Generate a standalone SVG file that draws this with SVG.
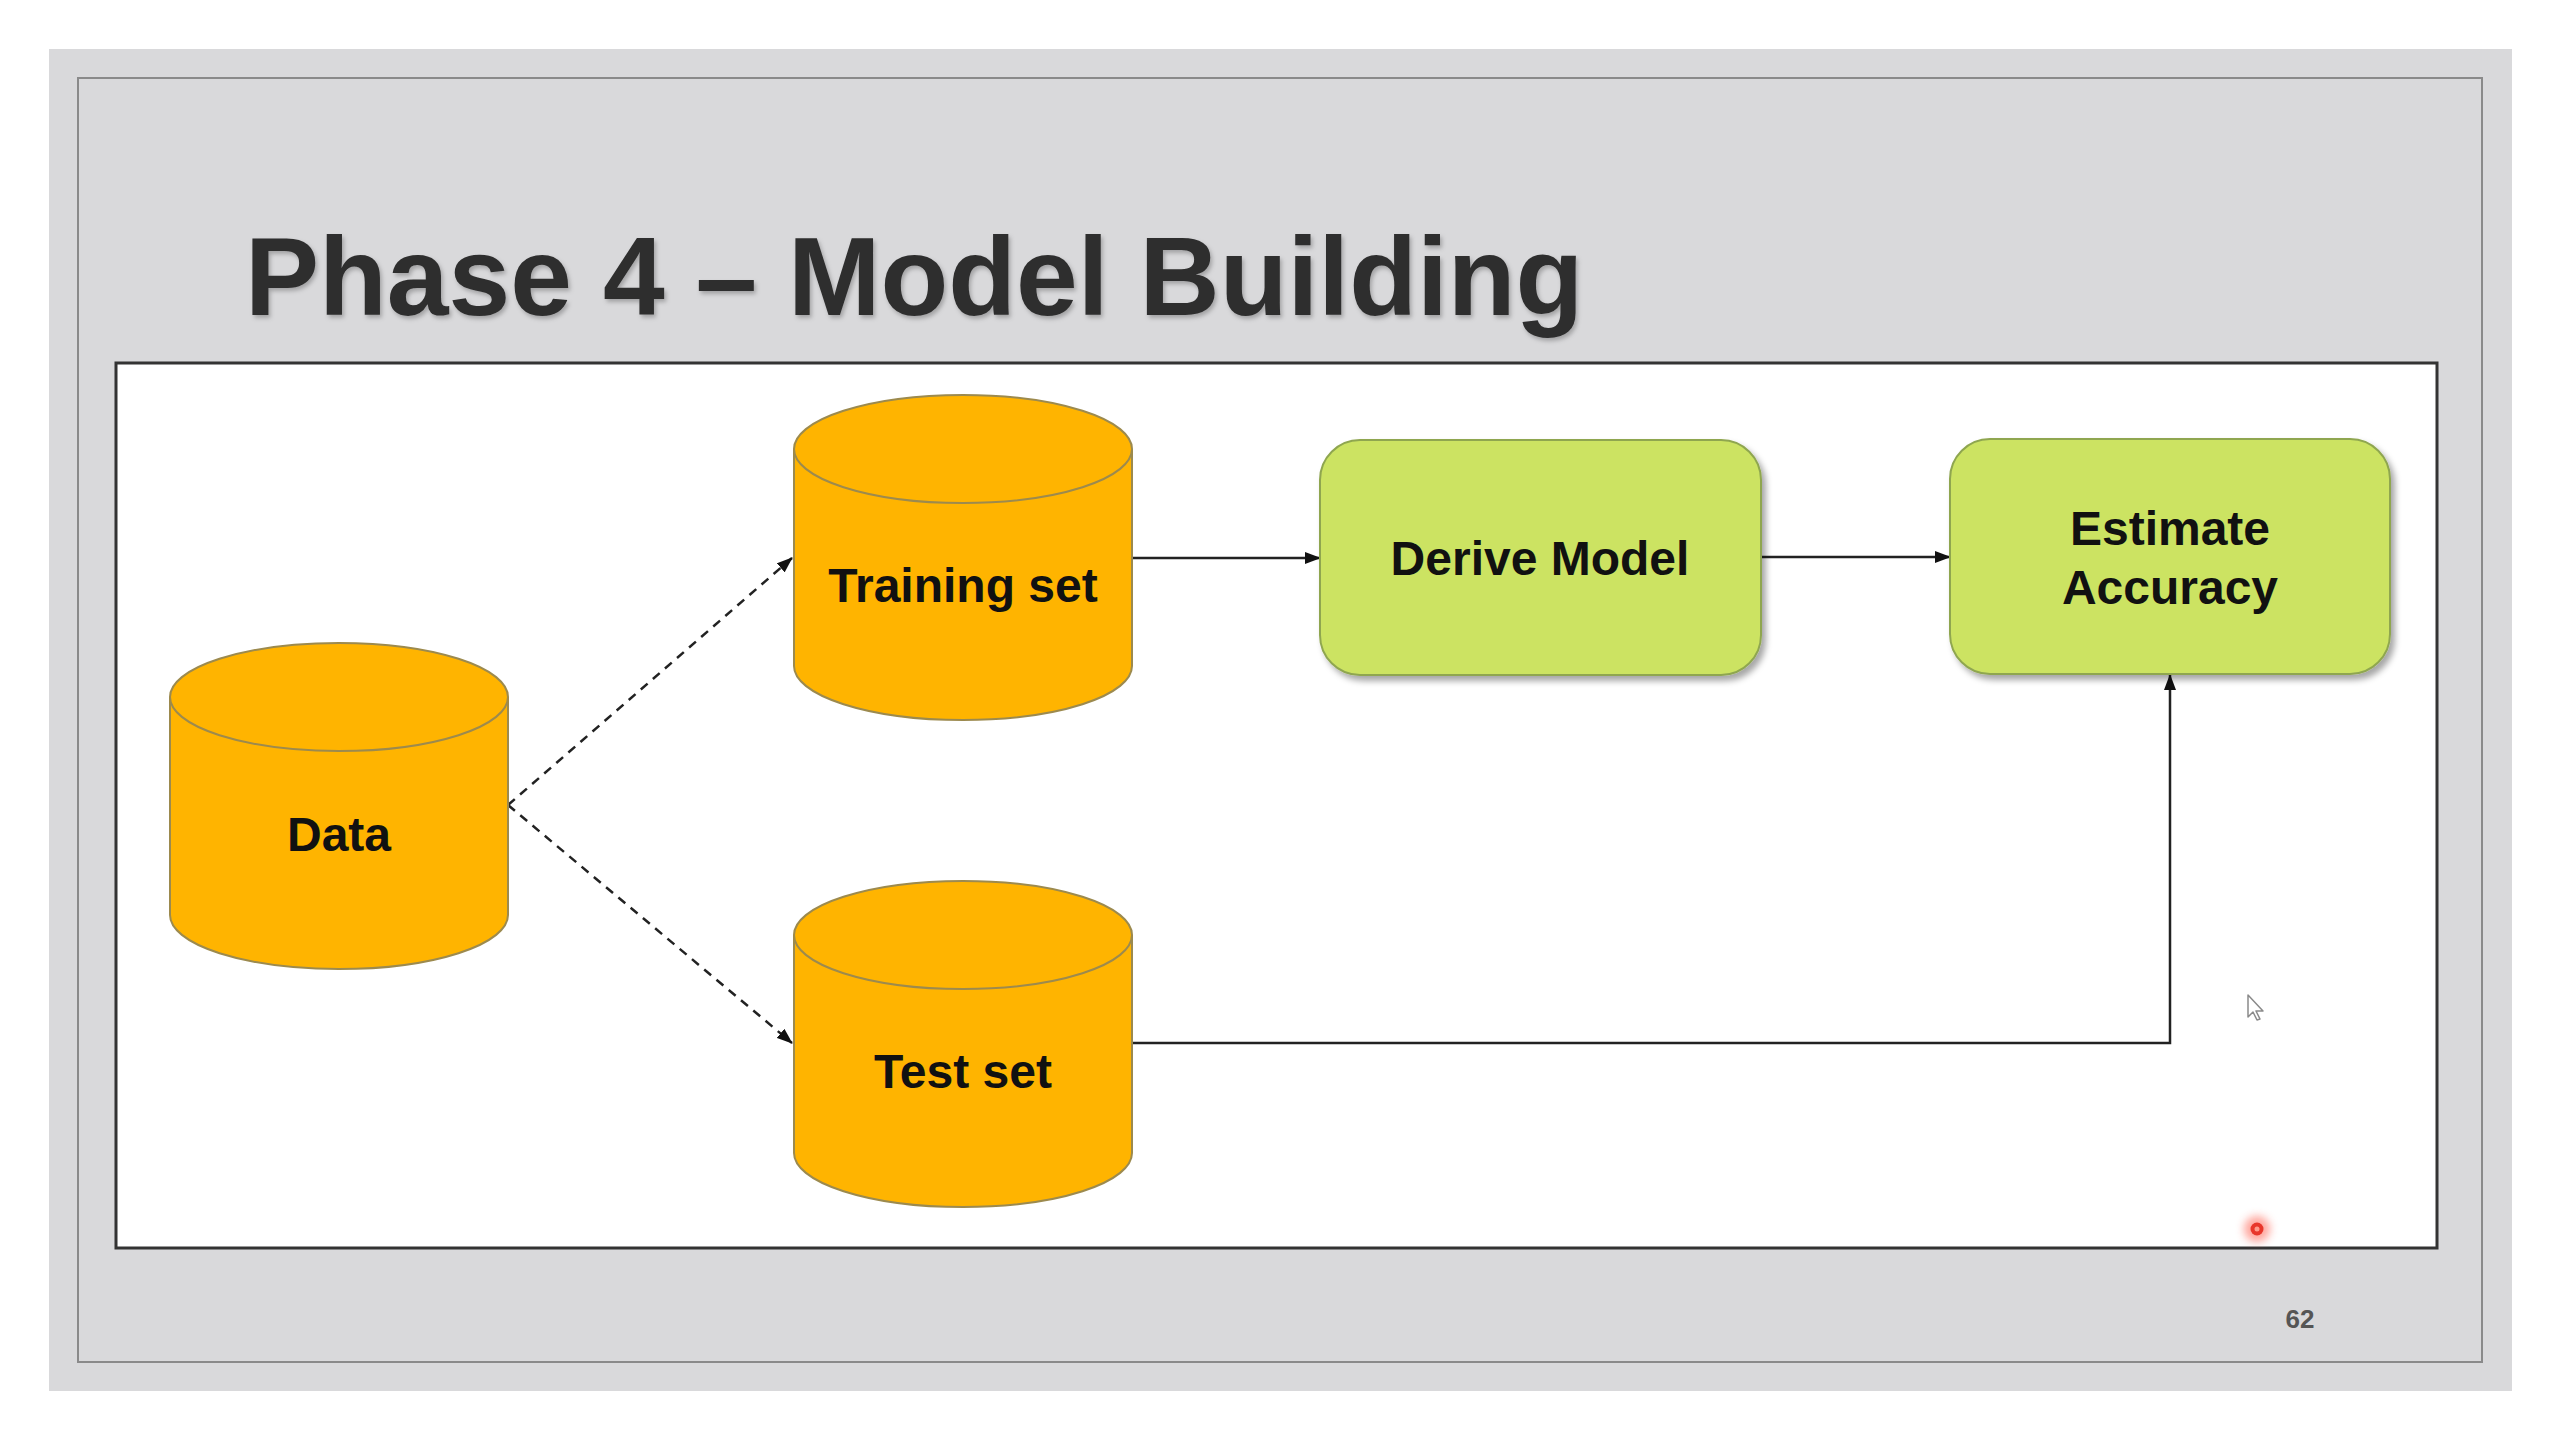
<svg xmlns="http://www.w3.org/2000/svg" width="2560" height="1440" viewBox="0 0 2560 1440">
<style>
.cyl{fill:#FFB400;stroke:#9C8A4E;stroke-width:2}
.cyl-rim{fill:none;stroke:#9C8A4E;stroke-width:2}
.proc{fill:#CCE362;stroke:#8FA650;stroke-width:2}
.lbl{font-family:"Liberation Sans",Arial,Helvetica,sans-serif;font-weight:bold;font-size:48px;fill:#111;text-anchor:middle}
.conn{fill:none;stroke:#222;stroke-width:2.5}
.dash{stroke-dasharray:9 7}
</style>
<defs>
<marker id="arrow" markerUnits="userSpaceOnUse" markerWidth="16" markerHeight="12" refX="15" refY="6" orient="auto">
<path d="M0,0 L16,6 L0,12 Z" fill="#111"/>
</marker>
<filter id="shadow" x="-10%" y="-10%" width="125%" height="130%">
<feDropShadow dx="4" dy="5" stdDeviation="3" flood-color="#000" flood-opacity="0.35"/>
</filter>
<filter id="tshadow" x="-5%" y="-20%" width="110%" height="140%">
<feDropShadow dx="2" dy="3" stdDeviation="2" flood-color="#000" flood-opacity="0.25"/>
</filter>
<filter id="glow" x="-100%" y="-100%" width="300%" height="300%">
<feGaussianBlur stdDeviation="4"/>
</filter>
</defs>

<rect x="0" y="0" width="2560" height="1440" fill="#ffffff"/>
<rect x="49" y="49" width="2463" height="1342" fill="#D9D9DB"/>
<rect x="78" y="78" width="2404" height="1284" fill="none" stroke="#8a8a8a" stroke-width="2"/>

<text id="title" x="245" y="315" font-family="'Liberation Sans',Arial,Helvetica,sans-serif" font-weight="bold" font-size="111" fill="#2e2e2e" filter="url(#tshadow)">Phase 4 – Model Building</text>

<rect id="canvas" x="116" y="363" width="2321" height="885" fill="#ffffff" stroke="#333333" stroke-width="3"/>

<g id="connectors">
<path class="conn" d="M1132,558 H1320" marker-end="url(#arrow)"/>
<path class="conn" d="M1761,557 H1950" marker-end="url(#arrow)"/>
<path class="conn" d="M1132,1043 H2170 V675" marker-end="url(#arrow)"/>
<path class="conn dash" d="M508,805 L792,558" marker-end="url(#arrow)"/>
<path class="conn dash" d="M508,805 L792,1043" marker-end="url(#arrow)"/>
</g>

<g id="node-data">
<path class="cyl" d="M170,697 A169,54 0 0 1 508,697 V915 A169,54 0 0 1 170,915 Z"/>
<path class="cyl-rim" d="M170,697 A169,54 0 0 0 508,697"/>
<text class="lbl" x="339" y="851">Data</text>
</g>

<g id="node-training">
<path class="cyl" d="M794,449 A169,54 0 0 1 1132,449 V666 A169,54 0 0 1 794,666 Z"/>
<path class="cyl-rim" d="M794,449 A169,54 0 0 0 1132,449"/>
<text class="lbl" x="963" y="602">Training set</text>
</g>

<g id="node-test">
<path class="cyl" d="M794,935 A169,54 0 0 1 1132,935 V1153 A169,54 0 0 1 794,1153 Z"/>
<path class="cyl-rim" d="M794,935 A169,54 0 0 0 1132,935"/>
<text class="lbl" x="963" y="1088">Test set</text>
</g>

<g id="node-derive">
<rect class="proc" x="1320" y="440" width="441" height="235" rx="40" ry="40" filter="url(#shadow)"/>
<text class="lbl" x="1540" y="575">Derive Model</text>
</g>

<g id="node-estimate">
<rect class="proc" x="1950" y="439" width="440" height="235" rx="40" ry="40" filter="url(#shadow)"/>
<text class="lbl" x="2170" y="545">Estimate</text>
<text class="lbl" x="2170" y="604">Accuracy</text>
</g>

<g id="pointer">
<path d="M2248,995 L2248,1017 L2253,1012 L2257,1020 L2260,1019 L2256,1011 L2263,1011 Z" fill="#ffffff" stroke="#8a8a8a" stroke-width="1.5" stroke-linejoin="round"/>
<circle cx="2257" cy="1229" r="13" fill="#ff6b5b" opacity="0.6" filter="url(#glow)"/>
<circle cx="2257" cy="1229" r="6.5" fill="#e8362a"/>
<circle cx="2257" cy="1229" r="2.5" fill="#ff9a8a"/>
</g>

<text id="page-number" x="2300" y="1328" font-family="'Liberation Sans',Arial,Helvetica,sans-serif" font-weight="bold" font-size="26" fill="#555555" text-anchor="middle">62</text>
</svg>
